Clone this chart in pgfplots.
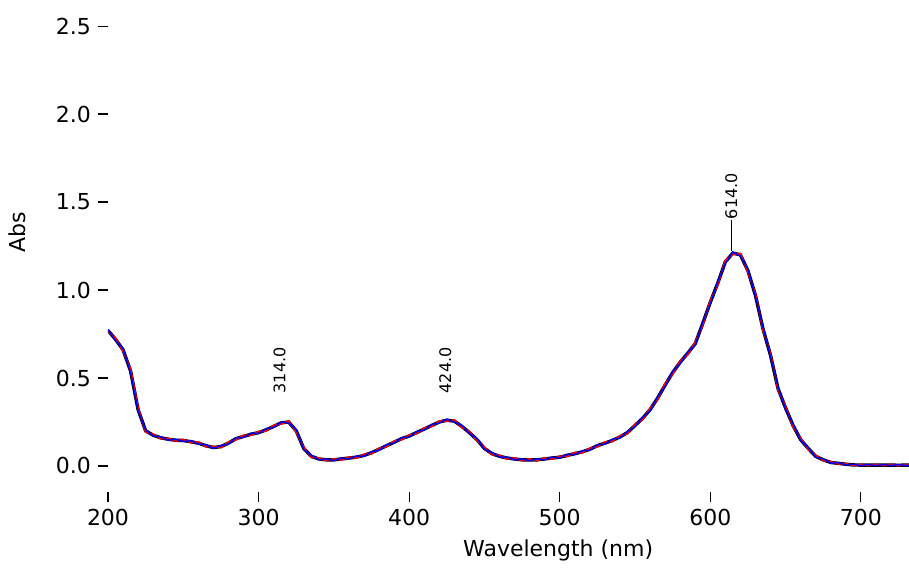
\documentclass[border=0pt]{standalone}
\usepackage{fontspec}
\setmainfont{DejaVu Sans}
\usepackage{pgfplots}
\usepackage{pgfplotstable}
\pgfplotsset{compat=1.18}
\pgfplotstableread{
x k r b
200 0.770 0.765 0.775
205 0.720 0.728 0.712
210 0.660 0.652 0.668
215 0.540 0.552 0.530
220 0.320 0.330 0.312
225 0.200 0.192 0.206
230 0.175 0.182 0.170
235 0.160 0.154 0.166
240 0.152 0.158 0.146
245 0.146 0.140 0.152
250 0.145 0.151 0.139
255 0.138 0.132 0.144
260 0.130 0.137 0.124
265 0.115 0.109 0.121
270 0.105 0.112 0.100
275 0.110 0.104 0.116
280 0.130 0.137 0.125
285 0.155 0.148 0.160
290 0.168 0.175 0.162
295 0.180 0.174 0.187
300 0.190 0.197 0.184
305 0.205 0.198 0.212
310 0.225 0.232 0.219
315 0.245 0.238 0.250
320 0.250 0.256 0.244
325 0.200 0.192 0.207
330 0.100 0.108 0.094
335 0.055 0.049 0.061
340 0.040 0.046 0.035
345 0.035 0.030 0.040
350 0.035 0.041 0.030
355 0.040 0.034 0.045
360 0.045 0.051 0.040
365 0.050 0.044 0.056
370 0.060 0.067 0.055
375 0.075 0.069 0.081
380 0.095 0.101 0.089
385 0.115 0.109 0.121
390 0.135 0.142 0.130
395 0.155 0.149 0.161
400 0.170 0.177 0.164
405 0.190 0.183 0.196
410 0.210 0.217 0.204
415 0.230 0.224 0.236
420 0.250 0.256 0.244
425 0.260 0.254 0.266
430 0.255 0.262 0.249
435 0.225 0.218 0.231
440 0.190 0.197 0.184
445 0.150 0.143 0.156
450 0.100 0.107 0.094
455 0.070 0.064 0.076
460 0.055 0.061 0.050
465 0.045 0.039 0.050
470 0.040 0.046 0.035
475 0.035 0.030 0.040
480 0.035 0.041 0.030
485 0.035 0.029 0.040
490 0.040 0.046 0.035
495 0.045 0.039 0.051
500 0.050 0.056 0.045
505 0.060 0.054 0.066
510 0.070 0.077 0.064
515 0.080 0.074 0.086
520 0.095 0.102 0.090
525 0.115 0.108 0.121
530 0.130 0.137 0.124
535 0.145 0.139 0.152
540 0.165 0.172 0.159
545 0.190 0.183 0.196
550 0.230 0.237 0.224
555 0.270 0.263 0.277
560 0.320 0.328 0.313
565 0.385 0.377 0.392
570 0.460 0.469 0.452
575 0.530 0.521 0.538
580 0.590 0.598 0.582
585 0.640 0.631 0.648
590 0.695 0.704 0.687
595 0.810 0.800 0.818
600 0.930 0.940 0.921
605 1.040 1.030 1.049
610 1.160 1.170 1.152
615 1.210 1.202 1.216
620 1.200 1.208 1.193
625 1.110 1.100 1.118
630 0.970 0.980 0.962
635 0.780 0.770 0.789
640 0.630 0.640 0.622
645 0.440 0.430 0.449
650 0.330 0.339 0.322
655 0.230 0.222 0.238
660 0.150 0.157 0.144
665 0.100 0.094 0.106
670 0.055 0.061 0.050
675 0.035 0.030 0.040
680 0.020 0.025 0.016
685 0.015 0.011 0.019
690 0.010 0.014 0.006
695 0.006 0.003 0.010
700 0.005 0.009 0.002
705 0.005 0.002 0.008
710 0.005 0.009 0.002
715 0.005 0.002 0.008
720 0.005 0.009 0.002
725 0.004 0.001 0.008
730 0.005 0.009 0.002
735 0.005 0.002 0.008
}\spec

\begin{document}
\begin{tikzpicture}
\begin{axis}[
  scale only axis, width=400.5pt, height=243.5pt,
  xmin=200, xmax=732, ymin=-0.148, ymax=2.62,
  axis line style={draw=none},
  xtick={200,300,400,500,600,700},
  ytick={0,0.5,1,1.5,2,2.5},
  yticklabel style={/pgf/number format/.cd,fixed,fixed zerofill,precision=1},
  tick align=outside, xtick pos=left, ytick pos=left,
  major tick length=5pt, tick style={black, line width=0.6pt},
  /pgf/number format/assume math mode=true,
  tick label style={font=\fontsize{11}{13}\selectfont},
  label style={font=\fontsize{11}{13}\selectfont},
  xlabel={Wavelength (nm)}, ylabel={Abs},
  xlabel style={at={(ticklabel cs:0.562)}},
  ylabel style={at={(ticklabel cs:0.533)}},
  ylabel shift=8pt,
  clip=true,
]
\addplot[black, line width=1.7pt] table[x=x,y=k]{\spec};
\addplot[red, line width=0.8pt] table[x=x,y=r]{\spec};
\addplot[blue, line width=0.7pt] table[x=x,y=b]{\spec};
\draw[black, line width=0.6pt] (axis cs:614,1.22) -- (axis cs:614,1.40);
\node[rotate=90, anchor=west, font=\fontsize{8}{9}\selectfont, inner sep=1pt] at (axis cs:314,0.40) {314.0};
\node[rotate=90, anchor=west, font=\fontsize{8}{9}\selectfont, inner sep=1pt] at (axis cs:424,0.40) {424.0};
\node[rotate=90, anchor=west, font=\fontsize{8}{9}\selectfont, inner sep=1pt] at (axis cs:614,1.39) {614.0};
\end{axis}
\pgfresetboundingbox
\path[use as bounding box] ([xshift=-54pt,yshift=-39pt]current axis.south west) rectangle ([yshift=2.5pt]current axis.north east);
\end{tikzpicture}
\end{document}
